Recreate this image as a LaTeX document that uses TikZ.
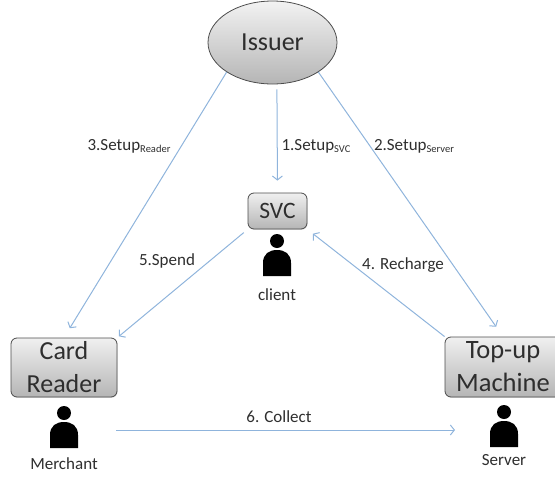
\documentclass[tikz,border=0pt]{standalone}
\usepackage{fontspec}
\setmainfont{Carlito}
\usetikzlibrary{arrows.meta,shapes.geometric,shadows}
\definecolor{linkblue}{HTML}{8FB4DC}
\definecolor{inkgray}{HTML}{2E2E2E}
\newcommand{\lowtext}[1]{\raisebox{-2.5pt}{\fontsize{10.5}{10.5}\selectfont #1}}
\tikzset{
  box/.style={draw=gray!60!black, line width=0.8pt, rounded corners=6pt, top color=gray!12, bottom color=gray!58,
    drop shadow={opacity=0.25, shadow xshift=0.6pt, shadow yshift=-0.8pt}, text=inkgray, inner sep=0pt, align=center},
  link/.style={draw=linkblue, line width=1pt, -{Straight Barb[length=4pt,width=10pt]}},
  tag/.style={text=inkgray, font=\fontsize{17}{17}\selectfont, inner sep=0pt},
  person/.pic={
    \fill (0,-9) circle (7);
    \fill (-14,26) -- (-14,13) .. controls (-14,4) and (-8,0) .. (0,0) .. controls (8,0) and (14,4) .. (14,13) -- (14,26) -- cycle;
  }
}
\begin{document}
\begin{tikzpicture}[x=1pt, y=-1pt, node distance=34pt]
\useasboundingbox (0,0) rectangle (555,477);
\node (issuer)[ellipse, draw=gray!60!black, line width=0.8pt, top color=gray!10, bottom color=gray!58, text=inkgray,
  minimum width=129pt, minimum height=83pt, inner sep=0pt, font=\fontsize{26}{26}\selectfont] at (272.5,42.5) {Issuer};
\node (svc)[box, minimum width=59pt, minimum height=36pt, font=\fontsize{23.5}{23.5}\selectfont] at (277.5,211) {SVC};
\node (reader)[box, minimum width=106pt, minimum height=59pt, font=\fontsize{26}{33}\selectfont] at (64,367.5) {Card\\Reader};
\node (topup)[box, minimum width=116pt, minimum height=60pt, font=\fontsize{26.5}{33}\selectfont] at (503,367) {Top-up\\Machine};
% people
\pic at (277,250) {person};
\pic at (64,422) {person};
\pic at (504,421) {person};
\coordinate (clientman) at (277,261);
\coordinate (merchantman) at (64,430);
\coordinate (serverman) at (504,430);
\node (client)[tag, below of = clientman] {client};
\node (merchant)[tag, below of = merchantman] {Merchant};
\node (server)[tag, below of = serverman, yshift=4pt] {Server};
% labels
\node (setupsvc)[tag] at (316,146) {1.Setup\lowtext{SVC}};
\node (setupserver)[tag] at (414,146) {2.Setup\lowtext{Server}};
\node (setupreader)[tag] at (129,146) {3.Setup\lowtext{Reader}};
\node (recharge)[tag] at (403,265) {4. Recharge};
\node (spend)[tag] at (167,261) {5.Spend};
\node (collect)[tag] at (279,417) {6. Collect};
% links
\draw[link, shorten >=11pt] (issuer.south west) -- (reader.north);
\draw[link, shorten <=5pt, shorten >=12pt] (issuer.-84) -- (svc.north);
\draw[link, shorten >=12pt] (issuer.south east) -- (topup.north);
\draw[link, shorten >=7pt] (topup.north west) -- (svc.south east);
\draw[link, shorten <=5pt, shorten >=2pt] (svc.south west) -- (reader.north east);
\draw[link, shorten <=52pt, shorten >=49pt] (merchantman) -- (serverman);
\end{tikzpicture}
\end{document}
